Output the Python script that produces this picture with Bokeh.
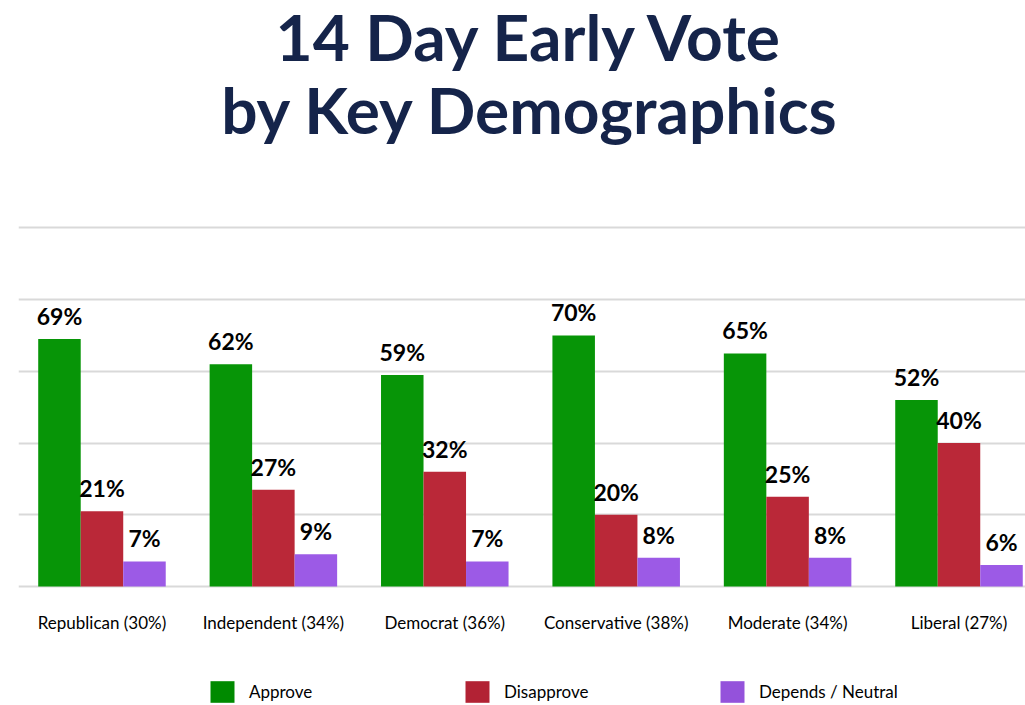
from bokeh.plotting import figure
from bokeh.layouts import column
from bokeh.models import ColumnDataSource, Range1d, FixedTicker, Legend, LegendItem, Label
from bokeh.core.properties import value
from bokeh.embed import file_html
from bokeh.resources import INLINE

categories = ["Republican (30%)", "Independent (34%)", "Democrat (36%)",
              "Conservative (38%)", "Moderate (34%)", "Liberal (27%)"]
series = ["Approve", "Disapprove", "Depends / Neutral"]
approve = [69, 62, 59, 70, 65, 52]
disapprove = [21, 27, 32, 20, 25, 40]
depends = [7, 9, 7, 8, 8, 6]
grid_ticks = [0, 20, 40, 60, 80, 100]
colors = ["#079507", "#BA2838", "#9C5AE6"]
legend_colors = ["#008A00", "#B22234", "#9452DB"]
title_lines = ["14 Day Early Vote", "by Key Demographics"]

FONT = "Lato"
bw = 0.248

# frame spans from the top of the canvas; title lines sit in the empty space above 100%
p = figure(width=1025, height=645, output_backend="svg", toolbar_location=None,
           x_range=Range1d(-0.487, 5.388), y_range=Range1d(-0.837, 163.4),
           min_border_left=18, min_border_right=0, min_border_top=0, min_border_bottom=56)
p.outline_line_color = None
p.background_fill_color = "white"
p.border_fill_color = "white"

for txt, ty in zip(title_lines, [553, 480]):
    p.add_layout(Label(x=512, y=ty, x_units="screen", y_units="screen", text=txt,
                       text_align="center", text_baseline="alphabetic",
                       text_font=FONT, text_font_size="64px", text_font_style="bold",
                       text_color="#15244A"))

for k, (vals, col) in enumerate(zip([approve, disapprove, depends], colors)):
    xs = [i + (k - 1) * bw for i in range(len(categories))]
    src = ColumnDataSource(dict(x=xs, top=vals, lab=[f"{v}%" for v in vals]))
    p.vbar(x="x", top="top", width=bw, bottom=0, source=src, fill_color=col, line_color=None)
    p.text(x="x", y="top", text="lab", source=src, text_align="center", text_baseline="bottom",
           y_offset=-9, text_font=value(FONT), text_font_style="bold", text_font_size="23px",
           text_color="black")

p.yaxis.visible = False
p.ygrid.ticker = FixedTicker(ticks=grid_ticks)
p.ygrid.grid_line_color = "#D9D9D9"
p.ygrid.grid_line_width = 2
p.xgrid.visible = False

p.xaxis.ticker = FixedTicker(ticks=list(range(len(categories))))
p.xaxis.major_label_overrides = {i: c for i, c in enumerate(categories)}
p.xaxis.axis_line_color = None
p.xaxis.major_tick_line_color = None
p.xaxis.minor_tick_line_color = None
p.xaxis.major_label_standoff = 16
p.xaxis.major_label_text_font = FONT
p.xaxis.major_label_text_font_size = "17px"
p.xaxis.major_label_text_color = "black"

# legend strip below the chart (proxy glyphs have zero height)
lg = figure(width=1025, height=60, output_backend="svg", toolbar_location=None,
            x_range=Range1d(0, 1), y_range=Range1d(0, 1),
            min_border_left=18, min_border_right=0, min_border_top=0, min_border_bottom=0)
lg.axis.visible = False
lg.grid.visible = False
lg.outline_line_color = None
lg_renderers = []
for col in legend_colors:
    lg_renderers.append(lg.vbar(x=[0.5], top=[0], bottom=0, width=0.1, fill_color=col, line_color=None))
legend = Legend(items=[LegendItem(label=s, renderers=[r]) for s, r in zip(series, lg_renderers)],
                orientation="horizontal", location=(189, 0), glyph_width=30, glyph_height=27,
                label_width=213, spacing=0, label_standoff=12, padding=0, margin=0,
                border_line_color=None, background_fill_alpha=0,
                label_text_font=FONT, label_text_font_size="17px", label_text_color="black")
lg.add_layout(legend, "center")

layout = column(p, lg, spacing=0)
open("out.html", "w").write(file_html(layout, INLINE))
